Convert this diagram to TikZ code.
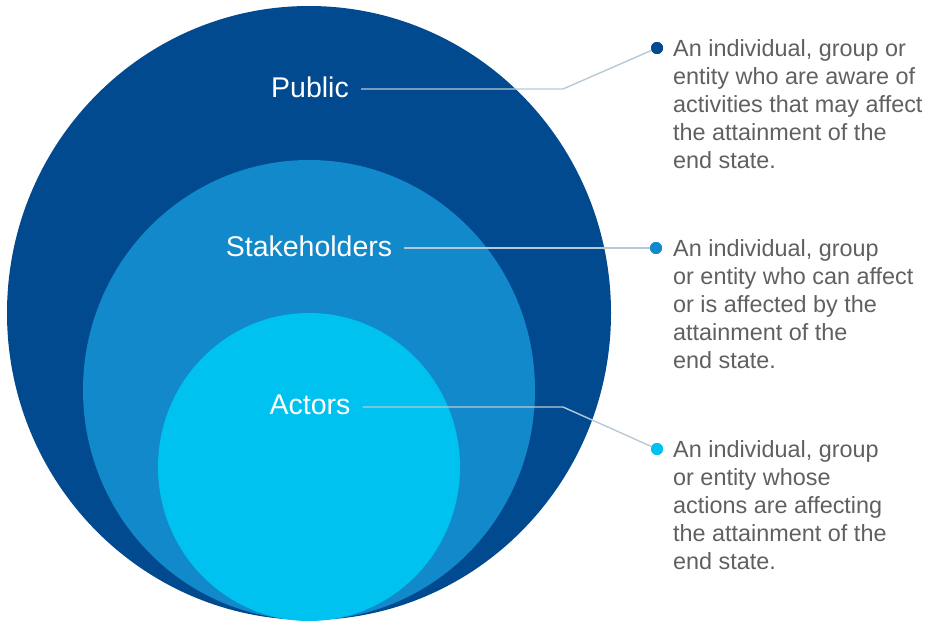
\documentclass[tikz,border=0pt]{standalone}
\usepackage{fontspec}
\setmainfont{Liberation Sans}
\definecolor{pubblue}{HTML}{024A8F}
\definecolor{stkblue}{HTML}{1189CA}
\definecolor{actblue}{HTML}{00C2F0}
\definecolor{desctext}{HTML}{5F6062}
\definecolor{leader}{HTML}{B8C9D6}
\tikzset{
  ringlabel/.style={text=white, font=\fontsize{28.5}{30}\selectfont, inner sep=0pt},
  desc/.style={text=desctext, font=\fontsize{23.4}{28.2}\selectfont, align=left, anchor=north west, inner sep=0pt},
  dot/.style={circle, inner sep=0pt, minimum size=12pt},
  leaderline/.style={draw=leader, line width=1.4pt}
}
\begin{document}
\begin{tikzpicture}[x=1pt,y=-1pt]
\useasboundingbox (0,0) rectangle (931,621);
% rings
\fill[pubblue] (309,313) ellipse [x radius=302pt, y radius=307pt];
\fill[stkblue] (309,390) ellipse [x radius=226pt, y radius=230pt];
\fill[actblue] (309,467) ellipse [x radius=151pt, y radius=154pt];
% labels
\node[ringlabel] (public) at (310,87) {Public};
\node[ringlabel] (stake) at (309,246) {Stakeholders};
\node[ringlabel] (actors) at (310,405) {Actors};
% dots
\node[dot, fill=pubblue] (d1) at (657,48) {};
\node[dot, fill=stkblue] (d2) at (656,248) {};
\node[dot, fill=actblue] (d3) at (657,449) {};
% corner points
\coordinate (c1) at (563,89);
\coordinate (c3) at (563,407);
% leader lines
\draw[leaderline] (public.east |- c1) ++(12,0) -- (c1) -- (d1.center);
\draw[leaderline] (stake.east |- d2) ++(12,0) -- (d2.center);
\draw[leaderline] (actors.east |- c3) ++(12,0) -- (c3) -- (d3.center);
\fill[pubblue] (d1) circle (6pt);
\fill[stkblue] (d2) circle (6pt);
\fill[actblue] (d3) circle (6pt);
% descriptions
\node[desc] (t1) at (673,39) {An individual, group or\\entity who are aware of\\activities that may affect\\the attainment of the\\end state.};
\node[desc] (t2) at (673,239) {An individual, group\\or entity who can affect\\or is affected by the\\attainment of the\\end state.};
\node[desc] (t3) at (673,440) {An individual, group\\or entity whose\\actions are affecting\\the attainment of the\\end state.};
\end{tikzpicture}
\end{document}
